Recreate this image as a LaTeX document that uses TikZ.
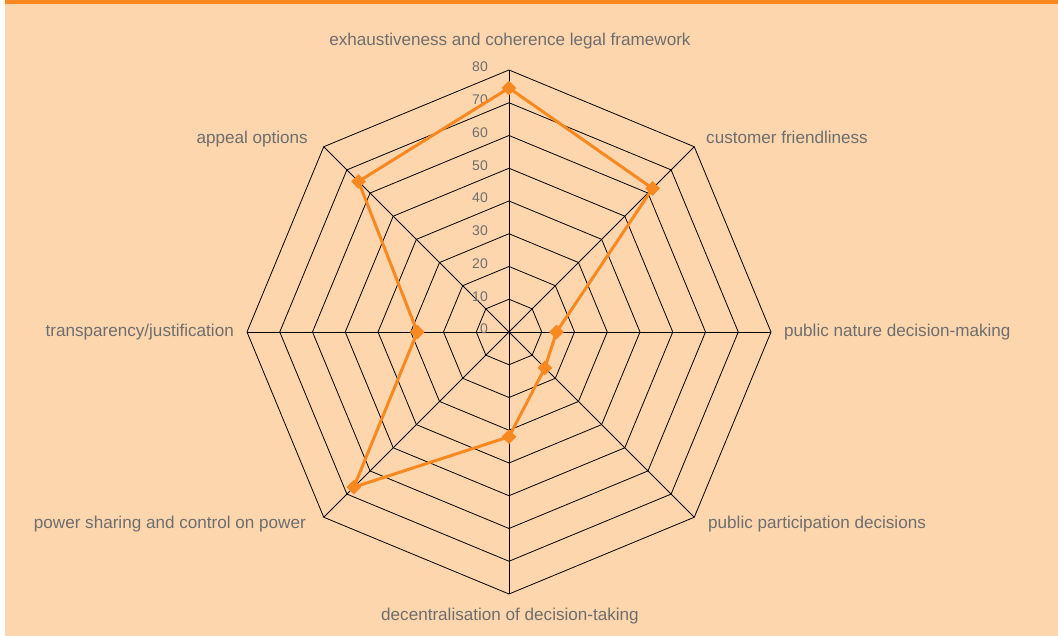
\documentclass[tikz,border=0pt]{standalone}
\usepackage{fontspec}
\setmainfont{Liberation Sans}
\usetikzlibrary{shapes.geometric}
\definecolor{peach}{RGB}{253,214,174}
\definecolor{chartorange}{RGB}{247,137,32}
\definecolor{labelgray}{RGB}{110,110,110}
\tikzset{grid line/.style={ % Sets the properties of the web
      black,
      line width=0.8pt},
      axis label/.style={ % Names of the eight criteria
      text=labelgray,
      font=\fontsize{17.1}{19}\selectfont,
      inner sep=0pt},
      tick label/.style={ % Numbers on the vertical axis
      text=labelgray,
      font=\fontsize{14}{16}\selectfont,
      anchor=east,
      inner sep=0pt},
      data point/.style={ % Diamond markers
      diamond,
      fill=chartorange,
      inner sep=0pt,
      minimum size=15pt},
      data line/.style={
      draw=chartorange,
      line width=3pt,
      line join=round}}

\begin{document}
\begin{tikzpicture}[x=1pt,y=1pt]
      \fill[white] (0,0) rectangle (1058,636);
      \fill[peach] (5,0) rectangle (1058,636);
      \fill[chartorange] (5,632.3) rectangle (1058,636);
      \begin{scope}[shift={(509,304)}]
            % web: one octagon for every ten units
            \foreach \r in {1,...,8} {
                  \pgfmathsetmacro{\R}{\r*32.75}
                  \draw[grid line] (0:\R) \foreach \a in {45,90,...,315} {-- (\a:\R)} -- cycle;
            }
            \foreach \a in {0,45,...,315}
                  \draw[grid line] (0,0) -- (\a:262);
            \foreach \v [count=\i from 0] in {0,10,...,80}
                  \node[tick label] (t\v) at (-21,{\i*32.75+3}) {\v};
            % scores
            \foreach \a/\v [count=\i] in {90/74.5,45/62,0/14.5,-45/15.5,-90/32,-135/67,180/28,135/65}
                  \coordinate (p\i) at (\a:{\v*3.275});
            \draw[data line] (p1) -- (p2) -- (p3) -- (p4) -- (p5) -- (p6) -- (p7) -- (p8) -- cycle;
            \foreach \i in {1,...,8}
                  \node[data point] (m\i) at (p\i) {};
      \end{scope}
      \node[axis label, anchor=base] (legal) at (510,590.5) {exhaustiveness and coherence legal framework};
      \node[axis label, anchor=base west] (customer) at (706,492) {customer friendliness};
      \node[axis label, anchor=base west] (nature) at (784,299.5) {public nature decision-making};
      \node[axis label, anchor=base west] (participation) at (708,107.5) {public participation decisions};
      \node[axis label, anchor=base] (decentral) at (510,15.5) {decentralisation of decision-taking};
      \node[axis label, anchor=base east] (power) at (306,107.5) {power sharing and control on power};
      \node[axis label, anchor=base east] (transparency) at (234,299.5) {transparency/justification};
      \node[axis label, anchor=base east] (appeal) at (308,492) {appeal options};
\end{tikzpicture}
\end{document}
